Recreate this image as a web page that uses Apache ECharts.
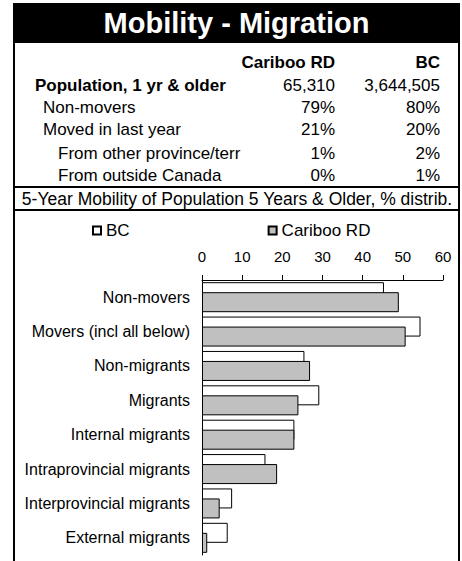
<!DOCTYPE html>
<html>
<head>
<meta charset="utf-8">
<script src="https://cdn.jsdelivr.net/npm/echarts@6/dist/echarts.min.js"></script>
<style>
  html, body { margin: 0; padding: 0; background: #fff; }
  #chart { width: 462px; height: 561px; }
</style>
</head>
<body>
<div id="chart"></div>
<script>
// summary table (1-year mobility)
const tableHeads = ['Cariboo RD', 'BC'];
const tableLabels = ['Population, 1 yr & older', 'Non-movers', 'Moved in last year', 'From other province/terr', 'From outside Canada'];
const tableIndent = [0, 1, 1, 2, 2];
const caribooCol = ['65,310', '79%', '21%', '1%', '0%'];
const bcCol = ['3,644,505', '80%', '20%', '2%', '1%'];

// 5-year mobility chart
const categories = ['Non-movers', 'Movers (incl all below)', 'Non-migrants', 'Migrants',
  'Internal migrants', 'Intraprovincial migrants', 'Interprovincial migrants', 'External migrants'];
const bcValues = [45.3, 54.4, 25.5, 29.2, 23.0, 15.8, 7.5, 6.4];
const caribooValues = [49.0, 50.7, 26.9, 24.0, 23.0, 18.7, 4.4, 1.3];

const font = 'Arial, "Liberation Sans", sans-serif';
const chart = echarts.init(document.getElementById('chart'), null, { renderer: 'svg' });

const rowY = [85, 107, 129, 153, 175];
const graphics = [
  // title bar
  { type: 'rect', shape: { x: 13, y: 3, width: 447, height: 40 }, style: { fill: '#000' } },
  { type: 'text', x: 236.5, y: 23, style: { text: 'Mobility - Migration', fill: '#fff', font: 'bold 29px ' + font, textAlign: 'center', textVerticalAlign: 'middle' } },
  // frame lines
  { type: 'rect', shape: { x: 13, y: 43, width: 2, height: 518 }, style: { fill: '#000' } },
  { type: 'rect', shape: { x: 458, y: 43, width: 2, height: 518 }, style: { fill: '#000' } },
  { type: 'rect', shape: { x: 13, y: 186, width: 447, height: 2 }, style: { fill: '#000' } },
  { type: 'rect', shape: { x: 13, y: 209, width: 447, height: 2 }, style: { fill: '#000' } },
  { type: 'text', x: 237, y: 199, style: { text: '5-Year Mobility of Population 5 Years & Older, % distrib.', fill: '#000', font: '17.5px ' + font, textAlign: 'center', textVerticalAlign: 'middle' } },
  { type: 'text', x: 335, y: 62, style: { text: tableHeads[0], fill: '#000', font: 'bold 17px ' + font, textAlign: 'right', textVerticalAlign: 'middle' } },
  { type: 'text', x: 440, y: 62, style: { text: tableHeads[1], fill: '#000', font: 'bold 17px ' + font, textAlign: 'right', textVerticalAlign: 'middle' } }
];
tableLabels.forEach((lab, i) => {
  const bold = i === 0 ? 'bold ' : '';
  graphics.push({ type: 'text', x: 35 + tableIndent[i] * 8 + (tableIndent[i] === 2 ? 7 : 0), y: rowY[i], style: { text: lab, fill: '#000', font: bold + '17px ' + font, textVerticalAlign: 'middle' } });
  graphics.push({ type: 'text', x: 335, y: rowY[i], style: { text: caribooCol[i], fill: '#000', font: '17px ' + font, textAlign: 'right', textVerticalAlign: 'middle' } });
  graphics.push({ type: 'text', x: 440, y: rowY[i], style: { text: bcCol[i], fill: '#000', font: '17px ' + font, textAlign: 'right', textVerticalAlign: 'middle' } });
});

chart.setOption({
  animation: false,
  textStyle: { fontFamily: font, color: '#000' },
  graphic: graphics,
  legend: {
    left: 92, top: 222, padding: 0,
    itemWidth: 8, itemHeight: 8, itemGap: 138,
    icon: 'rect',
    textStyle: { fontSize: 17, color: '#000' },
    data: ['BC', 'Cariboo RD']
  },
  grid: { left: 202, top: 280, width: 241, height: 275 },
  xAxis: {
    type: 'value', position: 'top', min: 0, max: 60, interval: 10,
    axisLine: { show: true, lineStyle: { color: '#000', width: 1 } },
    axisTick: { show: true, length: 5, lineStyle: { color: '#000' } },
    axisLabel: { fontSize: 15, color: '#000', margin: 16 },
    splitLine: { show: false }
  },
  yAxis: {
    type: 'category', inverse: true, data: categories,
    axisLine: { lineStyle: { color: '#000', width: 1 } },
    axisTick: { show: false },
    axisLabel: { fontSize: 16, color: '#000', margin: 12 }
  },
  series: [
    { name: 'BC', type: 'bar', data: bcValues, barWidth: 20, barGap: '-50%',
      itemStyle: { color: '#fff', borderColor: '#000', borderWidth: 1 } },
    { name: 'Cariboo RD', type: 'bar', data: caribooValues, barWidth: 20, barGap: '-50%',
      itemStyle: { color: '#c0c0c0', borderColor: '#000', borderWidth: 1 } }
  ]
});
</script>
</body>
</html>
